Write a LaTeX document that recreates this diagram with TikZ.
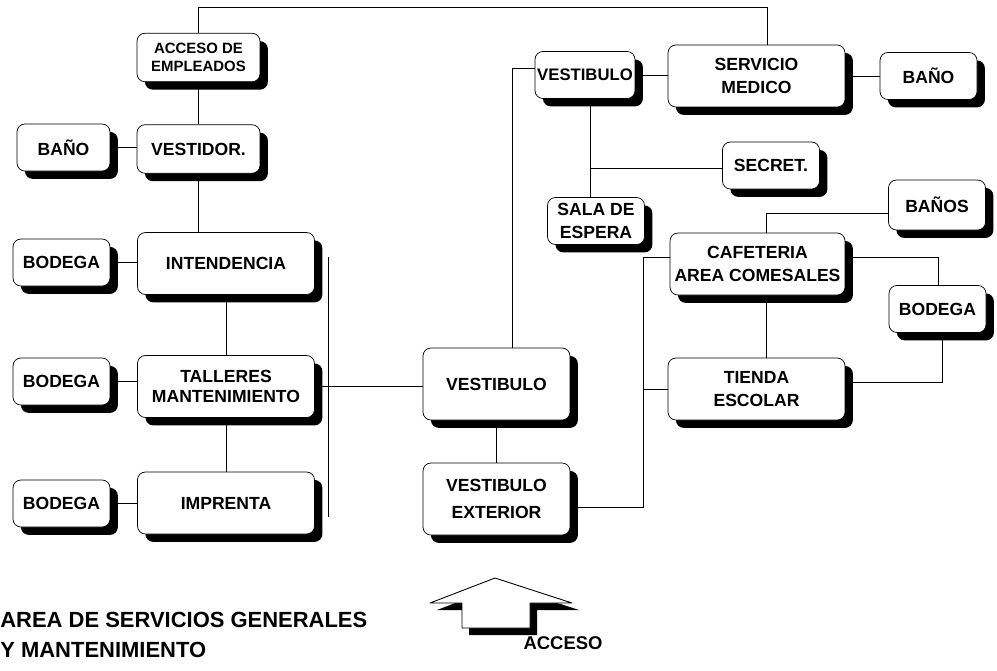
\documentclass[tikz,border=0pt]{standalone}
\usepackage{fontspec}
\setmainfont{Liberation Sans}
\usetikzlibrary{shadows,backgrounds}
\begin{document}
\begin{tikzpicture}[x=0.02cm,y=-0.02cm,line join=round,line cap=round,
	font=\bfseries\fontsize{10}{13}\selectfont,
	caja/.style={draw,line width=0.4pt,rounded corners=4.5pt,fill=white,align=center,inner sep=1pt,
		drop shadow={shadow xshift=4.5pt,shadow yshift=-4.5pt,fill=black,opacity=1}},
	chica/.style={caja,minimum width=1.94cm,minimum height=0.94cm},
	media/.style={caja,minimum width=2.46cm,minimum height=0.97cm},
	grande/.style={caja,minimum width=3.54cm,minimum height=1.24cm},
	amplia/.style={caja,minimum width=2.94cm,minimum height=1.44cm},
	linea/.style={line width=0.5pt}]
	\useasboundingbox (0,0) rectangle (997,670);
	% servicios generales
	\node[media,font=\bfseries\fontsize{8.5}{10.5}\selectfont] (acceso) at (198.5,57.5) {ACCESO DE\\EMPLEADOS};
	\node[chica,minimum width=1.86cm] (bano1) at (63.5,147.5) {BAÑO};
	\node[media] (vestidor) at (198.5,149) {VESTIDOR.};
	\node[chica] (bodega1) at (61.5,262.5) {BODEGA};
	\node[grande] (intendencia) at (226,263.5) {INTENDENCIA};
	\node[chica] (bodega2) at (61.5,381.5) {BODEGA};
	\node[grande,font=\bfseries\fontsize{10}{11.5}\selectfont] (talleres) at (226,386.5) {TALLERES\\MANTENIMIENTO};
	\node[chica] (bodega3) at (61.5,503.5) {BODEGA};
	\node[grande] (imprenta) at (226,503) {IMPRENTA};
	% vestibulos
	\node[amplia] (vestibulo) at (496.5,384) {VESTIBULO};
	\node[amplia,font=\bfseries\fontsize{10}{15}\selectfont] (vestext) at (496.5,499) {VESTIBULO\\EXTERIOR};
	\node[chica,minimum width=2cm,font=\bfseries\fontsize{9.5}{12}\selectfont] (vestsup) at (585,75) {VESTIBULO};
	% servicio medico y cafeteria
	\node[grande] (medico) at (756.5,76) {SERVICIO\\MEDICO};
	\node[chica] (bano2) at (928.5,76) {BAÑO};
	\node[chica] (secret) at (771,165.5) {SECRET.};
	\node[chica] (sala) at (596,221) {SALA DE\\ESPERA};
	\node[chica,minimum height=1cm] (banos) at (937,205) {BAÑOS};
	\node[grande,minimum width=3.5cm] (cafe) at (757.5,264) {CAFETERIA\\AREA COMESALES};
	\node[chica] (bodega4) at (937.5,309) {BODEGA};
	\node[grande] (tienda) at (756.5,389) {TIENDA\\ESCOLAR};
	\begin{scope}[on background layer,linea]
		\coordinate (t1) at (198.5,7); \coordinate (t2) at (767,7);
		\draw (acceso.north) -- (t1) -- (t2) -- (t2 |- medico.north);
		\draw (acceso) -- (vestidor) -- (vestidor |- intendencia);
		\draw (bano1) -- (bano1 -| vestidor);
		\draw (bodega1) -- (bodega1 -| intendencia);
		\draw (intendencia) -- (talleres) -- (imprenta);
		\draw (bodega2) -- (bodega2 -| talleres);
		\draw (bodega3) -- (bodega3 -| imprenta);
		\coordinate (bus1) at (328,257); \coordinate (bus2) at (328,517);
		\draw (bus1) -- (bus2);
		\draw (talleres) -- (talleres -| vestibulo);
		\draw (vestibulo) -- (vestext);
		\coordinate (v1) at (512,68);
		\draw (v1 |- vestibulo) -- (v1) -- (v1 -| vestsup);
		\draw (vestsup) -- (vestsup -| medico);
		\draw (medico) -- (medico -| bano2);
		\coordinate (s1) at (590,168);
		\draw (s1 |- vestsup) -- (s1 |- sala);
		\draw (s1) -- (s1 -| secret);
		\coordinate (c1) at (766,213);
		\draw (c1 |- cafe) -- (c1) -- (c1 -| banos);
		\draw (c1 |- cafe) -- (c1 |- tienda);
		\coordinate (c2) at (938,257);
		\draw (c2 -| cafe) -- (c2) -- (c2 |- bodega4);
		\coordinate (c3) at (942,382);
		\draw (c3 -| tienda) -- (c3) -- (c3 |- bodega4);
		\coordinate (r1) at (643,257); \coordinate (r2) at (643,507);
		\draw (r1 -| cafe) -- (r1) -- (r2) -- (r2 -| vestext);
		\draw (tienda) -- (tienda -| r1);
	\end{scope}
	% flecha de acceso
	\fill[shift={(7,7)}] (495,578) -- (572,603) -- (530,603) -- (530,628) -- (462,628) -- (462,603) -- (430,603) -- cycle;
	\draw[linea,fill=white] (495,578) -- (572,603) -- (530,603) -- (530,628) -- (462,628) -- (462,603) -- (430,603) -- cycle;
	\node[font=\bfseries\fontsize{10.5}{12}\selectfont,inner sep=0pt] (entrada) at (563,643) {ACCESO};
	\node[anchor=north west,align=left,inner sep=0pt,font=\bfseries\fontsize{12.5}{17}\selectfont] (titulo) at (0,612) {AREA DE SERVICIOS GENERALES\\Y MANTENIMIENTO};
\end{tikzpicture}
\end{document}
